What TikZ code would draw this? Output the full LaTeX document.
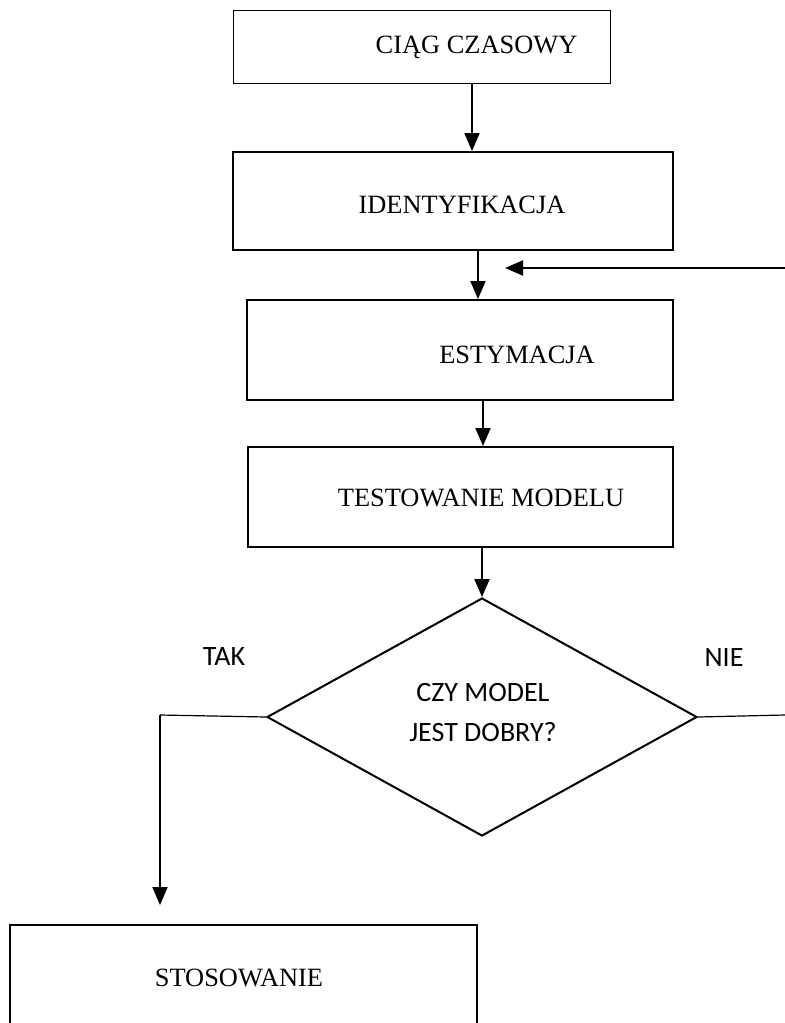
\documentclass[tikz,border=0pt]{standalone}
\usepackage{fontspec}
\setmainfont{Liberation Serif}
\newfontfamily\calibri{Carlito}
\usetikzlibrary{arrows.meta, shapes.geometric}

\tikzset{
  box/.style={draw, line width=1pt, minimum width=#1, inner sep=0pt},
  step text/.style={font=\fontsize{13.2}{15}\selectfont},
  dec text/.style={font=\calibri\fontsize{14}{20}\selectfont, align=center},
  arr/.style={line width=1pt, -{Triangle[length=9pt, width=7.5pt]}},
  thinline/.style={line width=0.6pt}
}

\begin{document}
\begin{tikzpicture}[x=0.5pt, y=-0.5pt]
\useasboundingbox (0,0) rectangle (785,1023);
\node[box=188.5pt, minimum height=36.5pt, line width=0.5pt] (ciag) at (421.5,46.5) {};
\node[box=220pt, minimum height=49pt] (ident) at (453,201) {};
\node[box=213pt, minimum height=50pt] (estym) at (460,350) {};
\node[box=212.5pt, minimum height=50pt] (test) at (460.5,497) {};
\node[draw, diamond, line width=1pt, minimum width=215pt, minimum height=119pt, inner sep=0pt] (dec) at (482,717) {};
\node[box=233.5pt, minimum height=51pt] (stos) at (243.5,975.5) {};

\node[step text] at (476.5,47) {CIĄG CZASOWY};
\node[step text] at (462,205) {IDENTYFIKACJA};
\node[step text] at (517,355) {ESTYMACJA};
\node[step text] at (481,498) {TESTOWANIE MODELU};
\node[step text] at (239,978) {STOSOWANIE};
\node[dec text] at (483,713) {CZY MODEL\\JEST DOBRY?};
\node[dec text] at (224,657) {TAK};
\node[dec text] at (724,658) {NIE};

\coordinate (back) at (785,268);
\coordinate (backend) at (505,268);
\coordinate (takcorner) at (160,715);
\coordinate (takend) at (160,905);
\coordinate (nieend) at (785,715);

\draw[arr] (ciag.south -| 472,0) -- (ident.north -| 472,0);
\draw[arr] (ident.south -| 478,0) -- (estym.north -| 478,0);
\draw[arr] (estym.south -| 483,0) -- (test.north -| 483,0);
\draw[arr] (test.south -| dec.north) -- (dec.north);
\draw[arr] (back) -- (backend);
\draw[thinline] (dec.west) -- (takcorner);
\draw[arr] (takcorner) -- (takend);
\draw[thinline] (dec.east) -- (nieend);
\end{tikzpicture}
\end{document}
